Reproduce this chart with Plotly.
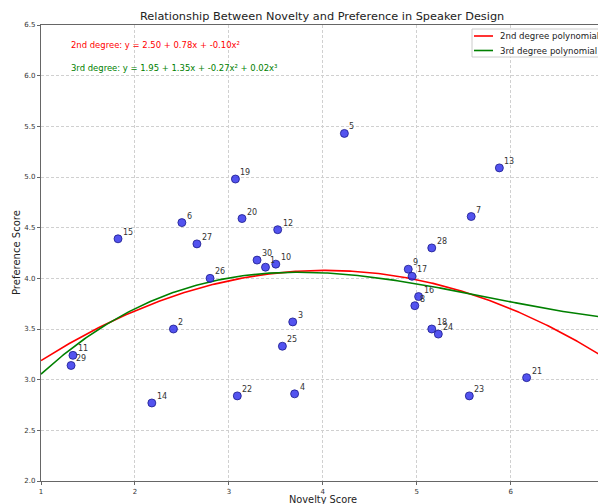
import numpy as np
import plotly.graph_objects as go

ids = list(range(1, 31))
novelty = [3.39, 2.41, 3.68, 3.70, 4.23, 2.50, 5.58, 4.98, 4.91, 3.50,
           1.34, 3.52, 5.88, 2.18, 1.82, 5.02, 4.95, 5.16, 3.07, 3.14,
           6.17, 3.09, 5.56, 5.23, 3.57, 2.80, 2.66, 5.16, 1.32, 3.30]
preference = [4.11, 3.50, 3.57, 2.86, 5.43, 4.55, 4.61, 3.73, 4.09, 4.14,
              3.24, 4.48, 5.09, 2.77, 4.39, 3.82, 4.02, 3.50, 4.98, 4.59,
              3.02, 2.84, 2.84, 3.45, 3.33, 4.00, 4.34, 4.30, 3.14, 4.18]

eq2_text = "2nd degree: y = 2.50 + 0.78x + -0.10x²"
eq3_text = "3rd degree: y = 1.95 + 1.35x + -0.27x² + 0.02x³"
legend_names = ["2nd degree polynomial", "3rd degree polynomial"]
legend_colors = ["red", "green"]

x_arr = np.array(novelty)
y_arr = np.array(preference)
c2 = np.polyfit(x_arr, y_arr, 2)
c3 = np.polyfit(x_arr, y_arr, 3)
xs = np.linspace(1, 7, 300)

FONT = "DejaVu Sans"
# plot area in page px: left 41, top 25, right 598 (cut), bottom 481
PL, PT, PR, PB = 41, 25, 598, 481
PW, PH = PR - PL, PB - PT


def dx(px):
    return (px - PL) / PW


def dy(py):
    return 1 - (py - PT) / PH


fig = go.Figure()

fig.add_trace(go.Scatter(x=xs, y=np.polyval(c2, xs), mode="lines",
                         line=dict(color=legend_colors[0], width=1.6),
                         name=legend_names[0], showlegend=False, hoverinfo="skip"))
fig.add_trace(go.Scatter(x=xs, y=np.polyval(c3, xs), mode="lines",
                         line=dict(color=legend_colors[1], width=1.6),
                         name=legend_names[1], showlegend=False, hoverinfo="skip"))
fig.add_trace(go.Scatter(x=novelty, y=preference, mode="markers",
                         marker=dict(color="rgba(40,40,235,0.8)", size=8,
                                     line=dict(color="#1a1a8c", width=0.8)),
                         showlegend=False, hoverinfo="skip"))

for i, xv, yv in zip(ids, novelty, preference):
    fig.add_annotation(x=xv, y=yv, text=str(i), showarrow=False,
                       xanchor="left", yanchor="bottom", xshift=3, yshift=0,
                       font=dict(family=FONT, size=8, color="#333"))

fig.add_annotation(xref="x domain", yref="y domain", x=dx(69), y=dy(45),
                   text=eq2_text, showarrow=False, xanchor="left", yanchor="middle",
                   font=dict(family=FONT, size=8.45, color="red"))
fig.add_annotation(xref="x domain", yref="y domain", x=dx(69), y=dy(68),
                   text=eq3_text, showarrow=False, xanchor="left", yanchor="middle",
                   font=dict(family=FONT, size=8.45, color="green"))

# title & axis titles
fig.add_annotation(xref="x domain", yref="y domain", x=dx(322), y=dy(17),
                   text="Relationship Between Novelty and Preference in Speaker Design",
                   showarrow=False, xanchor="center", yanchor="middle",
                   font=dict(family=FONT, size=11.3, color="#222"))
fig.add_annotation(xref="x domain", yref="y domain", x=dx(323), y=dy(499),
                   text="Novelty Score", showarrow=False, xanchor="center", yanchor="middle",
                   font=dict(family=FONT, size=9.8, color="#222"))
fig.add_annotation(xref="x domain", yref="y domain", x=dx(16), y=dy(253),
                   text="Preference Score", showarrow=False, xanchor="center", yanchor="middle",
                   textangle=-90, font=dict(family=FONT, size=10, color="#222"))

# legend drawn by hand (matplotlib style)
shapes = [dict(type="rect", xref="x domain", yref="y domain",
               x0=dx(472), x1=dx(612), y0=dy(57), y1=dy(29),
               fillcolor="rgba(255,255,255,0.85)", line=dict(color="#cccccc", width=1))]
rows = [36, 50.5]
for name, col, ry in zip(legend_names, legend_colors, rows):
    shapes.append(dict(type="line", xref="x domain", yref="y domain",
                       x0=dx(474), x1=dx(493), y0=dy(ry), y1=dy(ry),
                       line=dict(color=col, width=1.6)))
    fig.add_annotation(xref="x domain", yref="y domain", x=dx(498), y=dy(ry),
                       text=name, showarrow=False, xanchor="left", yanchor="middle",
                       font=dict(family=FONT, size=8.6, color="#222"))
fig.update_layout(shapes=shapes)

axis_common = dict(showline=True, linecolor="#666", linewidth=1.2, mirror=True,
                   showgrid=True, gridcolor="#d0d0d0", griddash="3px,2px", gridwidth=0.8,
                   ticks="outside", ticklen=3, tickcolor="#666", zeroline=False,
                   tickfont=dict(family=FONT, size=7, color="#333"), automargin=False)

fig.update_xaxes(range=[1, 6.93], tickvals=[1, 2, 3, 4, 5, 6], **axis_common)
fig.update_yaxes(range=[2.0, 6.5], tickvals=[2.0, 2.5, 3.0, 3.5, 4.0, 4.5, 5.0, 5.5, 6.0, 6.5],
                 ticktext=["2.0", "2.5", "3.0", "3.5", "4.0", "4.5", "5.0", "5.5", "6.0", "6.5"],
                 **axis_common)

fig.update_layout(width=598, height=504,
                  margin=dict(l=PL, r=598 - PR, t=PT, b=504 - PB),
                  plot_bgcolor="white", paper_bgcolor="white",
                  font=dict(family=FONT), showlegend=False)

fig.write_html("out.html",
               config={"displayModeBar": False},
               post_script="document.body.style.margin='0';"
                           "document.documentElement.style.overflow='hidden';"
                           "document.body.style.overflow='hidden';")
